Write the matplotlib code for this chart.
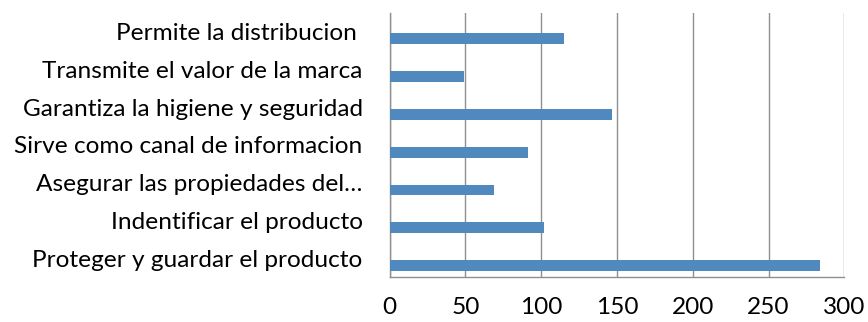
import numpy as np
import matplotlib.pyplot as plt

# Funciones del envase (de abajo hacia arriba)
categorias = [
    "Proteger y guardar el producto",
    "Indentificar el producto",
    "Asegurar las propiedades del…",
    "Sirve como canal de informacion",
    "Garantiza la higiene y seguridad",
    "Transmite el valor de la marca",
    "Permite la distribucion ",
]
valores = [284, 102, 69, 91, 147, 49, 115]
xticks = [0, 50, 100, 150, 200, 250, 300]

plt.rcParams['font.family'] = ['Lato', 'DejaVu Sans']

fig = plt.figure(figsize=(8.68, 3.22), dpi=100)
ax = fig.add_axes([0.449, 0.1388, 0.5237, 0.8218])

y = np.arange(len(categorias))
ax.barh(y - 0.19, valores, height=0.29, color='#4f89bd', zorder=3)

ax.set_xlim(0, 300)
ax.set_ylim(-0.5, len(categorias) - 0.5)
ax.set_xticks(xticks)
ax.set_yticks(y)
ax.set_yticklabels(categorias)
ax.tick_params(axis='both', length=0, labelsize=17.6, colors='black')
ax.tick_params(axis='y', pad=19.5)
ax.tick_params(axis='x', pad=14.5)

ax.grid(axis='x', color='#8f8f8f', linewidth=1, zorder=0)
for side in ['top', 'right']:
    ax.spines[side].set_visible(False)
for side in ['left', 'bottom']:
    ax.spines[side].set_color('#8f8f8f')
    ax.spines[side].set_linewidth(1)

fig.savefig('out.png', dpi=100)
